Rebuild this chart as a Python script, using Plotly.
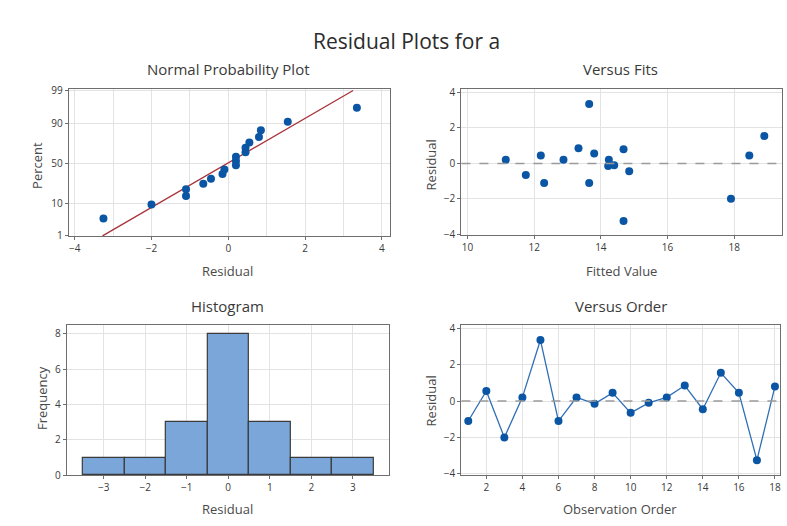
import numpy as np
import plotly.graph_objects as go
from statistics import NormalDist

# ---------------- data ----------------
observation = list(range(1, 19))
residuals = [-1.1, 0.55, -2.0, 0.2, 3.35, -1.1, 0.2, -0.15, 0.45, -0.65,
             -0.1, 0.2, 0.85, -0.45, 1.55, 0.45, -3.25, 0.8]
fitted = [12.3, 13.8, 17.9, 11.15, 13.65, 13.65, 12.88, 14.22, 12.2, 11.75,
          14.4, 14.24, 13.33, 14.85, 18.9, 18.45, 14.68, 14.68]
percent_ticks = [1, 10, 50, 90, 99]
npp_x_ticks = [-4, -2, 0, 2, 4]
fits_x_ticks = [10, 12, 14, 16, 18]
hist_x_ticks = [-3, -2, -1, 0, 1, 2, 3]
hist_y_ticks = [0, 2, 4, 6, 8]
resid_ticks = [-4, -2, 0, 2, 4]
order_ticks = [2, 4, 6, 8, 10, 12, 14, 16, 18]

# ---------------- derived ----------------
nd = NormalDist()
n = len(residuals)
sorted_res = sorted(residuals)
z_pos = [nd.inv_cdf((i - 0.3) / (n + 0.4)) for i in range(1, n + 1)]
mu = float(np.mean(residuals))
sd = float(np.std(residuals, ddof=1))
z_lo, z_hi = nd.inv_cdf(0.01), nd.inv_cdf(0.99)
line_z = [z_lo, z_hi]
line_x = [mu + sd * z for z in line_z]
percent_z = [nd.inv_cdf(p / 100) for p in percent_ticks]

W, H = 787, 526
def px(a, b):
    return [a / W, b / W]
def py(top, bottom):
    return [1 - bottom / H, 1 - top / H]

BLUE = "#0b56a4"
FONT = "Open Sans"
TICKF = dict(family=FONT, size=10, color="#3a3a3a")
GRID = "#e3e3e3"
BORDER = "#6e6e6e"

fig = go.Figure()

# Normal probability plot
fig.add_trace(go.Scatter(x=line_x, y=line_z, mode="lines",
                         line=dict(color="#a8323a", width=1.3),
                         xaxis="x", yaxis="y", showlegend=False))
fig.add_trace(go.Scatter(x=sorted_res, y=z_pos, mode="markers",
                         marker=dict(color=BLUE, size=8),
                         xaxis="x", yaxis="y", showlegend=False))
# Versus fits
fig.add_trace(go.Scatter(x=fitted, y=residuals, mode="markers",
                         marker=dict(color=BLUE, size=8),
                         xaxis="x2", yaxis="y2", showlegend=False))
# Histogram
fig.add_trace(go.Histogram(x=residuals, xbins=dict(start=-3.5, end=3.5, size=1),
                           marker=dict(color="#7ba6da", line=dict(color="#3a3a3a", width=1.2)),
                           xaxis="x3", yaxis="y3", showlegend=False))
# Versus order
fig.add_trace(go.Scatter(x=observation, y=residuals, mode="lines+markers",
                         line=dict(color="#2f6fb5", width=1.3),
                         marker=dict(color=BLUE, size=8),
                         xaxis="x4", yaxis="y4", showlegend=False))

common = dict(showline=True, mirror=True, linecolor=BORDER, linewidth=1.3,
              ticks="outside", ticklen=3, tickcolor=BORDER, tickfont=TICKF,
              gridcolor=GRID, gridwidth=1, zeroline=False)

fig.update_layout(
    width=W, height=H,
    margin=dict(l=0, r=0, t=0, b=0),
    paper_bgcolor="white", plot_bgcolor="white",
    font=dict(family=FONT, color="#333"),
    bargap=0,
    xaxis=dict(domain=px(69, 390), range=[-4.15, 4.2], tickvals=npp_x_ticks,
               minor=dict(dtick=1, showgrid=True, gridcolor=GRID, ticks=""),
               anchor="y", **common),
    yaxis=dict(domain=py(85, 236), range=[z_lo - 0.01, z_hi + 0.05],
               tickvals=percent_z, ticktext=[str(p) for p in percent_ticks],
               anchor="x", **common),
    xaxis2=dict(domain=px(462, 783), range=[9.82, 19.43], tickvals=fits_x_ticks,
                anchor="y2", **common),
    yaxis2=dict(domain=py(85, 235), range=[-4.05, 4.2], tickvals=resid_ticks,
                anchor="x2", **common),
    xaxis3=dict(domain=px(67, 389), range=[-3.885, 3.86], tickvals=hist_x_ticks,
                anchor="y3", **common),
    yaxis3=dict(domain=py(327, 481), range=[0, 8.5], tickvals=hist_y_ticks,
                anchor="x3", **common),
    xaxis4=dict(domain=px(462, 781), range=[0.62, 18.28], tickvals=order_ticks,
                anchor="y4", **common),
    yaxis4=dict(domain=py(327, 481), range=[-4.07, 4.18], tickvals=resid_ticks,
                anchor="x4", **common),
)

# zero reference lines
for xa, ya in [("x2", "y2"), ("x4", "y4")]:
    fig.add_shape(type="line", xref=f"{xa} domain", yref=ya, x0=0, x1=1, y0=0, y1=0,
                  line=dict(color="#9a9a9a", width=1.5, dash="dash"), layer="above")

def ann(text, x, y, size, color="#333", angle=0):
    fig.add_annotation(text=text, x=x / W, y=1 - y / H, xref="paper", yref="paper",
                       showarrow=False, textangle=angle, xanchor="center", yanchor="middle",
                       font=dict(family=FONT, size=size, color=color))

ann("Residual Plots for a", 407, 36, 21, "#2b2b2b")
ann("Normal Probability Plot", 229, 65, 15, "#3a3a3a")
ann("Versus Fits", 621, 65, 15, "#3a3a3a")
ann("Histogram", 228, 308, 15, "#3a3a3a")
ann("Versus Order", 622, 308, 15, "#3a3a3a")
ann("Residual", 228, 272, 13, "#4a4a4a")
ann("Fitted Value", 622, 272, 13, "#4a4a4a")
ann("Residual", 228, 516, 13, "#4a4a4a")
ann("Observation Order", 621, 516, 13, "#4a4a4a")
ann("Percent", 37, 163, 13, "#4a4a4a", -90)
ann("Residual", 432, 163, 13, "#4a4a4a", -90)
ann("Frequency", 42, 402, 13, "#4a4a4a", -90)
ann("Residual", 432, 405, 13, "#4a4a4a", -90)

fig.write_html("out.html",
               config={"displayModeBar": False},
               post_script="document.body.style.margin='0';document.body.style.overflow='hidden';")
